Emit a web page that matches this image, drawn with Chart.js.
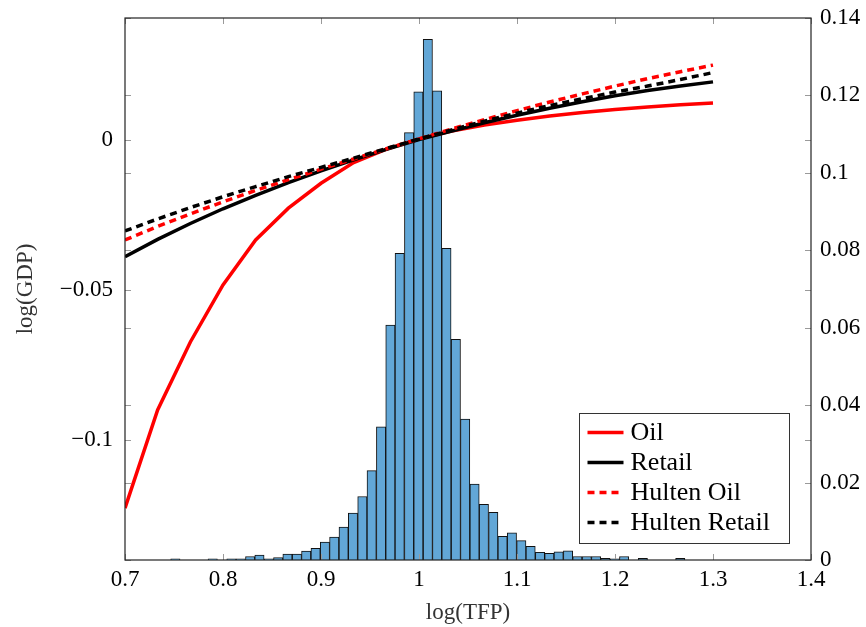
<!DOCTYPE html>
<html>
<head>
<meta charset="utf-8">
<script src="https://cdn.jsdelivr.net/npm/chart.js@4.4.0/dist/chart.umd.min.js"></script>
<style>
  html, body { margin: 0; padding: 0; background: #fff; }
  #wrap { width: 866px; height: 627px; }
</style>
</head>
<body>
<div id="wrap"><canvas id="chart" width="866" height="627"></canvas></div>
<script>
// log(TFP) grid for the GDP curves
const tfpPoints = [0.7, 0.7333, 0.7667, 0.8, 0.8333, 0.8667, 0.9, 0.9333, 0.9667, 1.0,
                   1.0333, 1.0667, 1.1, 1.1333, 1.1667, 1.2, 1.2333, 1.2667, 1.3];
const oil          = [-0.1227, -0.0900, -0.0673, -0.0483, -0.0333, -0.0227, -0.0144, -0.0075, -0.0030, 0.0004,
                       0.0030, 0.0050, 0.0066, 0.0080, 0.0092, 0.0102, 0.0110, 0.0118, 0.0124];
const retail       = [-0.0389, -0.0331, -0.0278, -0.0229, -0.0184, -0.0142, -0.0103, -0.0066, -0.0031, 0.0002,
                       0.0030, 0.0058, 0.0083, 0.0106, 0.0128, 0.0148, 0.0165, 0.0180, 0.0194];
const hultenOil    = [-0.0333, -0.0288, -0.0246, -0.0206, -0.0168, -0.0132, -0.0097, -0.0063, -0.0029, 0.0004,
                       0.0037, 0.0068, 0.0098, 0.0127, 0.0154, 0.0180, 0.0205, 0.0228, 0.0250];
const hultenRetail = [-0.0303, -0.0263, -0.0225, -0.0189, -0.0155, -0.0122, -0.0091, -0.0060, -0.0028, 0.0004,
                       0.0034, 0.0063, 0.0090, 0.0115, 0.0138, 0.0160, 0.0180, 0.0202, 0.0225];

// histogram of log(TFP) (right axis)
const binCenters = [0.7514, 0.7609, 0.7704, 0.7800, 0.7895, 0.7991, 0.8086, 0.8181, 0.8277, 0.8372,
                    0.8468, 0.8563, 0.8658, 0.8754, 0.8849, 0.8945, 0.9040, 0.9135, 0.9231, 0.9326,
                    0.9422, 0.9517, 0.9613, 0.9708, 0.9803, 0.9899, 0.9994, 1.0090, 1.0185, 1.0280,
                    1.0376, 1.0471, 1.0567, 1.0662, 1.0758, 1.0853, 1.0948, 1.1044, 1.1139, 1.1235,
                    1.1330, 1.1425, 1.1521, 1.1616, 1.1712, 1.1807, 1.1902, 1.1998, 1.2093, 1.2189,
                    1.2284, 1.2380, 1.2475, 1.2570, 1.2666];
const binShares  = [0.0003, 0, 0, 0, 0.0003, 0, 0.0003, 0.0003, 0.0009, 0.0013,
                    0.0003, 0.0006, 0.0015, 0.0015, 0.0023, 0.0030, 0.0046, 0.0059, 0.0085, 0.0121,
                    0.0164, 0.0231, 0.0344, 0.0607, 0.0792, 0.1104, 0.1209, 0.1345, 0.1212, 0.0805,
                    0.0570, 0.0364, 0.0196, 0.0144, 0.0123, 0.0061, 0.0070, 0.0050, 0.0035, 0.0020,
                    0.0017, 0.0021, 0.0024, 0.0009, 0.0009, 0.0009, 0.0004, 0.0003, 0.0009, 0,
                    0.0004, 0, 0, 0, 0.0004];

const xTicks = { min: 0.7, max: 1.4, step: 0.1 };
const gdpTicks = { min: -0.14, max: 0.0407, step: 0.05 };
const shareTicks = { min: 0, max: 0.14, step: 0.02 };

const FONT = "'Liberation Serif', 'DejaVu Serif', serif";
const pts = arr => tfpPoints.map((x, i) => ({ x, y: arr[i] }));
const fmt = v => String(+v.toFixed(3)).replace('-', '\u2212');
const noLabelPad = s => { s.paddingTop = 0; s.paddingBottom = 0; };

// frame + inward ticks on all four sides, like pgfplots
const frameTicks = {
    id: "frameTicks",
    afterDatasetsDraw(chart) {
        const { ctx, chartArea: a, scales } = chart;
        const len = 6;
        ctx.save();
        ctx.strokeStyle = "#9a9a9a";
        ctx.lineWidth = 1;
        ctx.beginPath();
        scales.x.ticks.forEach(t => {
            const px = Math.round(scales.x.getPixelForValue(t.value)) + 0.5;
            ctx.moveTo(px, a.bottom); ctx.lineTo(px, a.bottom - len);
            ctx.moveTo(px, a.top); ctx.lineTo(px, a.top + len);
        });
        [scales.y, scales.y1].forEach(s => s.ticks.forEach(t => {
            const py = Math.round(s.getPixelForValue(t.value)) + 0.5;
            ctx.moveTo(a.left, py); ctx.lineTo(a.left + len, py);
            ctx.moveTo(a.right, py); ctx.lineTo(a.right - len, py);
        }));
        ctx.stroke();
        ctx.strokeStyle = "#222";
        ctx.lineWidth = 1.2;
        ctx.strokeRect(a.left, a.top, a.right - a.left, a.bottom - a.top);
        ctx.restore();
    }
};

// boxed legend inside the plot, lower right
const boxLegend = {
    id: "boxLegend",
    afterDraw(chart) {
        const ctx = chart.ctx;
        const x0 = 579.5, y0 = 413.5, w = 210, h = 130;
        ctx.save();
        ctx.fillStyle = "#fff";
        ctx.fillRect(x0, y0, w, h);
        ctx.strokeStyle = "#333";
        ctx.lineWidth = 1;
        ctx.strokeRect(x0, y0, w, h);
        ctx.font = "26px " + FONT;
        ctx.textBaseline = "middle";
        chart.data.datasets.filter(d => d.type === "line").forEach((ds, i) => {
            const y = y0 + 19 + i * 30;
            ctx.strokeStyle = ds.borderColor;
            ctx.lineWidth = ds.borderWidth;
            ctx.setLineDash(ds.borderDash || []);
            ctx.beginPath();
            ctx.moveTo(x0 + 8, y); ctx.lineTo(x0 + 44, y);
            ctx.stroke();
            ctx.setLineDash([]);
            ctx.fillStyle = "#000";
            ctx.fillText(ds.label, x0 + 51, y + 1);
        });
        ctx.restore();
    }
};

const tickFont = { family: FONT, size: 23 };

new Chart(document.getElementById("chart").getContext("2d"), {
    type: "bar",
    data: {
        datasets: [
            { type: "line", label: "Oil", data: pts(oil), borderColor: "#ff0000", borderWidth: 3.5,
              pointRadius: 0, yAxisID: "y", order: 4 },
            { type: "line", label: "Retail", data: pts(retail), borderColor: "#000000", borderWidth: 3.5,
              pointRadius: 0, yAxisID: "y", order: 3 },
            { type: "line", label: "Hulten Oil", data: pts(hultenOil), borderColor: "#ff0000", borderWidth: 3.5,
              borderDash: [7, 5], pointRadius: 0, yAxisID: "y", order: 2 },
            { type: "line", label: "Hulten Retail", data: pts(hultenRetail), borderColor: "#000000", borderWidth: 3.5,
              borderDash: [7, 5], pointRadius: 0, yAxisID: "y", order: 1 },
            { type: "bar", label: "share", data: binCenters.map((x, i) => ({ x, y: binShares[i] })),
              backgroundColor: "#62a7d7", borderColor: "#111", borderWidth: 1,
              barPercentage: 1, categoryPercentage: 1, yAxisID: "y1", order: 5 }
        ]
    },
    options: {
        responsive: false,
        animation: false,
        layout: { padding: { top: 18, left: 0, right: 0, bottom: 0 } },
        plugins: { legend: { display: false }, tooltip: { enabled: false } },
        scales: {
            x: {
                type: "linear", position: "bottom", offset: false,
                min: xTicks.min, max: xTicks.max,
                grid: { display: false, drawTicks: false, offset: false }, border: { display: false },
                ticks: { stepSize: xTicks.step, includeBounds: false, padding: 6, maxRotation: 0,
                         color: "#000", font: tickFont, callback: v => fmt(v) },
                title: { display: true, text: "log(TFP)", color: "#333", font: tickFont,
                         padding: { top: 0, bottom: 0 } },
                afterFit: s => { s.height = 67; }
            },
            y: {
                type: "linear", position: "left",
                min: gdpTicks.min, max: gdpTicks.max,
                grid: { display: false, drawTicks: false }, border: { display: false },
                ticks: { stepSize: gdpTicks.step, includeBounds: false, padding: 12,
                         color: "#000", font: tickFont, callback: v => fmt(v) },
                title: { display: true, text: "log(GDP)", color: "#333", font: tickFont,
                         padding: { top: 12, bottom: 0 } },
                afterFit: s => { s.width = 125; noLabelPad(s); }
            },
            y1: {
                type: "linear", position: "right",
                min: shareTicks.min, max: shareTicks.max,
                grid: { display: false, drawTicks: false }, border: { display: false },
                ticks: { stepSize: shareTicks.step, includeBounds: false, padding: 9,
                         color: "#000", font: tickFont, callback: v => fmt(v) },
                afterFit: s => { s.width = 55; noLabelPad(s); }
            }
        }
    },
    plugins: [frameTicks, boxLegend]
});
</script>
</body>
</html>
